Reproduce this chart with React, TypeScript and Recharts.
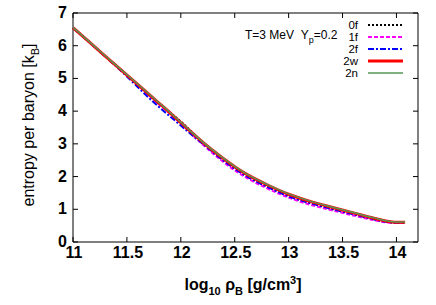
import React from 'react';
import { LineChart, Line, XAxis, YAxis, ReferenceArea, Legend } from 'recharts';

// log10 rho_B grid
const rho = [11, 11.2, 11.4, 11.6, 11.7, 11.8, 11.9, 12.0, 12.1, 12.2, 12.3, 12.4, 12.5, 12.6, 12.8, 13.0, 13.2, 13.4, 13.6, 13.8, 13.9, 14.0, 14.08];

// entropy per baryon for each model
const s0f = [6.55, 5.97, 5.39, 4.81, 4.51, 4.22, 3.96, 3.68, 3.37, 3.05, 2.76, 2.49, 2.25, 2.04, 1.69, 1.40, 1.19, 1.01, 0.85, 0.69, 0.62, 0.59, 0.59];
const s1f = [6.55, 5.97, 5.39, 4.80, 4.50, 4.20, 3.92, 3.62, 3.30, 2.99, 2.70, 2.43, 2.19, 1.98, 1.64, 1.36, 1.14, 0.97, 0.81, 0.66, 0.60, 0.58, 0.58];
const s2f = [6.55, 5.96, 5.37, 4.74, 4.42, 4.12, 3.84, 3.56, 3.28, 3.01, 2.74, 2.48, 2.24, 2.03, 1.69, 1.40, 1.19, 1.01, 0.85, 0.69, 0.62, 0.59, 0.59];
const s2w = [6.55, 5.97, 5.39, 4.82, 4.53, 4.24, 3.95, 3.65, 3.35, 3.06, 2.79, 2.54, 2.30, 2.09, 1.75, 1.46, 1.24, 1.06, 0.89, 0.72, 0.64, 0.60, 0.60];
const s2n = [6.56, 5.98, 5.40, 4.83, 4.54, 4.25, 3.96, 3.66, 3.36, 3.07, 2.80, 2.55, 2.31, 2.10, 1.76, 1.47, 1.25, 1.07, 0.90, 0.73, 0.65, 0.61, 0.61];

const xTicks = [11, 11.5, 12, 12.5, 13, 13.5, 14];
const yTicks = [0, 1, 2, 3, 4, 5, 6, 7];

const data = rho.map((r, i) => ({
  rho: r, s0f: s0f[i], s1f: s1f[i], s2f: s2f[i], s2w: s2w[i], s2n: s2n[i],
}));

const series = [
  { key: 's0f', name: '0f', color: '#000000', width: 2, dash: '2 2' },
  { key: 's1f', name: '1f', color: '#ff00ff', width: 2, dash: '4 2' },
  { key: 's2f', name: '2f', color: '#0000ff', width: 2, dash: '6 2 2 2' },
  { key: 's2w', name: '2w', color: '#ff0000', width: 3, dash: undefined },
  { key: 's2n', name: '2n', color: '#559955', width: 1.5, dash: undefined },
];

const FONT = '"Liberation Sans", Arial, Helvetica, sans-serif';
const TOP = 13;
const BOTTOM = 242;
const LEFT = 73;
const RIGHT = 418;
const TL = 5;

const XTick = (props: any) => {
  const { x, payload } = props;
  return (
    <g>
      <line x1={x} y1={BOTTOM} x2={x} y2={BOTTOM - TL} stroke="#000" />
      <line x1={x} y1={TOP} x2={x} y2={TOP + TL} stroke="#000" />
      <text x={x + 1} y={258} textAnchor="middle" fontFamily={FONT} fontWeight="bold" fontSize={16} fill="#000">
        {payload.value}
      </text>
    </g>
  );
};

const YTick = (props: any) => {
  const { y, payload } = props;
  return (
    <g>
      <line x1={LEFT} y1={y} x2={LEFT + TL} y2={y} stroke="#000" />
      <line x1={RIGHT} y1={y} x2={RIGHT - TL} y2={y} stroke="#000" />
      <text x={67} y={y + 5} textAnchor="end" fontFamily={FONT} fontWeight="bold" fontSize={16} fill="#000">
        {payload.value}
      </text>
    </g>
  );
};

const LegendBox = () => (
  <svg width={436} height={90} style={{ display: 'block' }}>
    <text x={245} y={39} fontFamily={FONT} fontSize={12} fill="#000">
      {'T=3 MeV\u00a0\u00a0Y'}<tspan dy={4} fontSize={9}>p</tspan><tspan dy={-4}>=0.2</tspan>
    </text>
    {series.map((s, i) => {
      const y = 25 + i * 12;
      return (
        <g key={s.key}>
          <text x={358} y={y + 4} textAnchor="end" fontFamily={FONT} fontSize={11.5} fill="#000">{s.name}</text>
          <line x1={368} y1={y} x2={403} y2={y} stroke={s.color} strokeWidth={s.width} strokeDasharray={s.dash} />
        </g>
      );
    })}
  </svg>
);

export default function App() {
  return (
    <div style={{ position: 'absolute', left: 0, top: 0, width: 436, height: 305, background: '#fff' }}>
      <LineChart width={436} height={305} data={data} margin={{ top: TOP, right: 436 - RIGHT, bottom: 0, left: 0 }}>
        <XAxis
          dataKey="rho"
          type="number"
          domain={[11, 14.2]}
          ticks={xTicks}
          height={305 - BOTTOM}
          tickLine={false}
          axisLine={false}
          tick={<XTick />}
          label={{
            content: () => (
              <text x={243} y={290} textAnchor="middle" fontFamily={FONT} fontWeight="bold" fontSize={16} fill="#000">
                log<tspan dy={5} fontSize={11}>10</tspan><tspan dy={-5}> ρ</tspan><tspan dy={5} fontSize={11}>B</tspan><tspan dy={-5}> [g/cm</tspan><tspan dy={-6} fontSize={11}>3</tspan><tspan dy={6}>]</tspan>
              </text>
            ),
          }}
        />
        <YAxis
          type="number"
          domain={[0, 7]}
          ticks={yTicks}
          width={LEFT}
          tickLine={false}
          axisLine={false}
          tick={<YTick />}
          label={{
            content: () => (
              <text transform="translate(34,125) rotate(-90)" textAnchor="middle" fontFamily={FONT} fontSize={16} fill="#000">
                entropy per baryon [k<tspan dy={5} fontSize={11}>B</tspan><tspan dy={-5}>]</tspan>
              </text>
            ),
          }}
        />
        <ReferenceArea x1={11} x2={14.2} y1={0} y2={7} fill="none" stroke="#000" strokeWidth={1} />
        <Legend
          layout="vertical"
          align="center"
          verticalAlign="middle"
          wrapperStyle={{ position: 'absolute', top: 0, left: 0, width: 436, height: 90 }}
          content={<LegendBox />}
        />
        {series.map((s) => (
          <Line
            key={s.key}
            dataKey={s.key}
            name={s.name}
            type="monotone"
            stroke={s.color}
            strokeWidth={s.width}
            strokeDasharray={s.dash}
            dot={false}
            isAnimationActive={false}
          />
        ))}
      </LineChart>
    </div>
  );
}
